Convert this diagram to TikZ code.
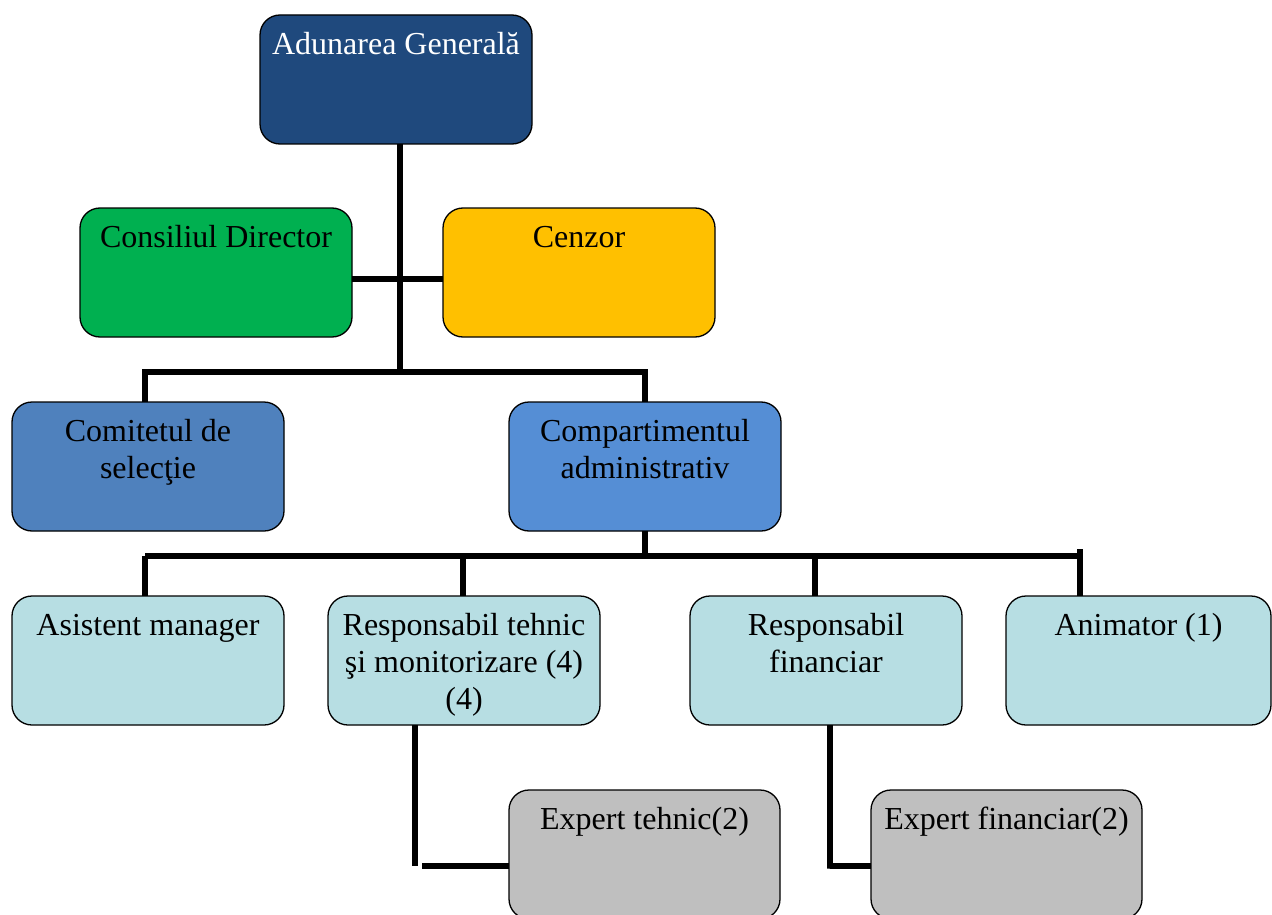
\documentclass[tikz,border=0pt]{standalone}
\usepackage{fontspec}
\setmainfont{Liberation Serif}
\definecolor{cAG}{HTML}{1F497D}
\definecolor{cCD}{HTML}{00B050}
\definecolor{cCZ}{HTML}{FFC000}
\definecolor{cCS}{HTML}{4F81BD}
\definecolor{cCA}{HTML}{558ED5}
\definecolor{cLT}{HTML}{B7DEE3}
\definecolor{cGR}{HTML}{BFBFBF}
\newcommand\mystrut{\rule{0pt}{30pt}}
\tikzset{
  orgbox/.style={draw=black, line width=1.3pt, rounded corners=20pt,
    minimum width=272pt, minimum height=129pt, anchor=north west,
    inner sep=0pt, outer sep=0pt},
  txt/.style={anchor=north, inner sep=0pt, align=center,
    font=\fontsize{32}{37}\selectfont},
  conn/.style={line width=5.5pt, black}
}
\begin{document}
\begin{tikzpicture}[x=1pt, y=-1pt]
\useasboundingbox (0,0) rectangle (1272,915);
\clip (0,0) rectangle (1272,915);
\fill[white] (0,0) rectangle (1272,915);

% boxes
\node[orgbox, fill=cAG] (ag) at (260,15) {};
\node[orgbox, fill=cCD] (cd) at (80,208) {};
\node[orgbox, fill=cCZ] (cz) at (443,208) {};
\node[orgbox, fill=cCS] (cs) at (12,402) {};
\node[orgbox, fill=cCA] (ca) at (509,402) {};
\node[orgbox, fill=cLT] (am) at (12,596) {};
\node[orgbox, fill=cLT] (rt) at (328,596) {};
\node[orgbox, fill=cLT] (rf) at (690,596) {};
\node[orgbox, fill=cLT, minimum width=265pt] (an) at (1006,596) {};
\node[orgbox, fill=cGR, minimum width=271pt] (et) at (509,790) {};
\node[orgbox, fill=cGR, minimum width=271pt] (ef) at (871,790) {};

% texts
\node[txt, text=white] (agt) at ([yshift=-9pt]ag.north) {\mystrut Adunarea Generală};
\node[txt] (cdt) at ([yshift=-9pt]cd.north) {\mystrut Consiliul Director};
\node[txt] (czt) at ([yshift=-9pt]cz.north) {\mystrut Cenzor};
\node[txt] (cst) at ([yshift=-9pt]cs.north) {\mystrut Comitetul de\\selecţie};
\node[txt] (cat) at ([yshift=-9pt]ca.north) {\mystrut Compartimentul\\administrativ};
\node[txt] (amt) at ([yshift=-9pt]am.north) {\mystrut Asistent manager};
\node[txt] (rtt) at ([yshift=-9pt]rt.north) {\mystrut Responsabil tehnic\\şi monitorizare (4)\\(4)};
\node[txt] (rft) at ([yshift=-9pt]rf.north) {\mystrut Responsabil\\financiar};
\node[txt] (ant) at ([yshift=-9pt]an.north) {\mystrut Animator (1)};
\node[txt] (ett) at ([yshift=-9pt]et.north) {\mystrut Expert tehnic(2)};
\node[txt] (eft) at ([yshift=-9pt]ef.north) {\mystrut Expert financiar(2)};

% junction coordinates
\coordinate (j1) at (400,372);
\coordinate (j2) at (400,279);
\coordinate (j3) at (645,556);
\coordinate (dAM) at (145,556);
\coordinate (dRT) at (463,556);
\coordinate (dRF) at (815,556);
\coordinate (dAN) at (1080,556);
\coordinate (tEt) at (415,866);
\coordinate (tEf) at (830,866);

% connectors
\draw[conn] (ag.south -| j1) -- (j1);
\draw[conn] (cd.east |- j2) -- (cz.west |- j2);
\draw[conn] (cs.north -| dAM) |- (j1) -| (ca.north);
\draw[conn] (ca.south) -- (j3);
\draw[conn] (dAM) -- (dAN);
\draw[conn] (dAM) -- (am.north -| dAM);
\draw[conn] (dRT) -- (rt.north -| dRT);
\draw[conn] (dRF) -- (rf.north -| dRF);
\draw[conn] ([yshift=7pt]dAN) -- (an.north -| dAN);
\draw[conn] (rt.south -| tEt) -- (tEt);
\draw[conn] ([xshift=7pt]tEt) -- (et.west |- tEt);
\draw[conn] (rf.south -| tEf) -- ([yshift=-2.5pt]tEf) -- (tEf) -- (ef.west |- tEf);
\end{tikzpicture}
\end{document}
